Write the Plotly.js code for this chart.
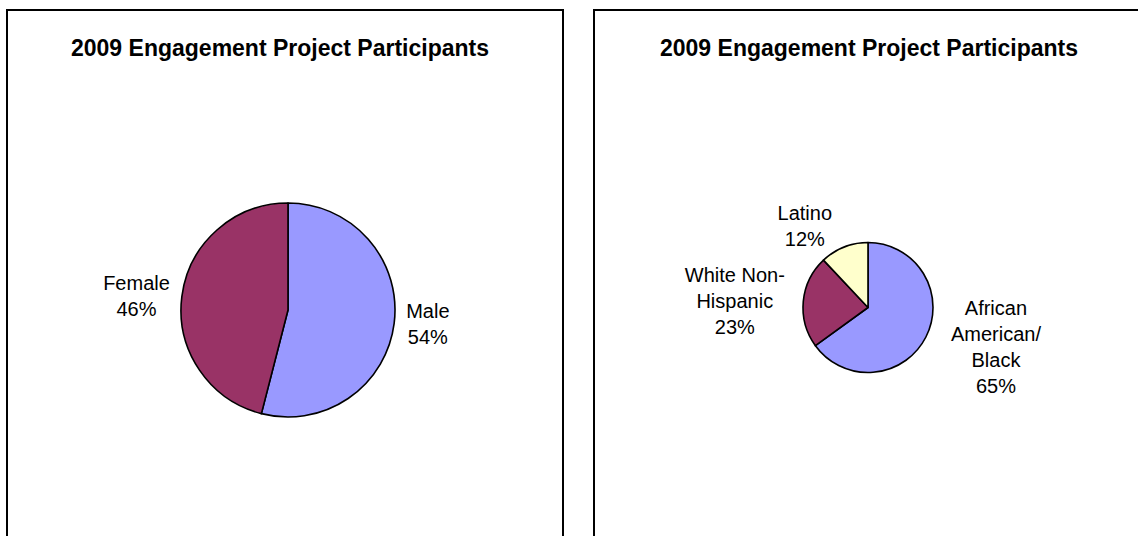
<!DOCTYPE html>
<html>
<head>
<meta charset="utf-8">
<script src="https://cdn.plot.ly/plotly-3.0.1.min.js"></script>
<style>
  html, body { margin: 0; padding: 0; background: #ffffff; }
  #chart { width: 1138px; height: 536px; }
</style>
</head>
<body>
<div id="chart"></div>
<script>
// ---- Data ----
const chartTitle = '2009 Engagement Project Participants';

const genderLabels = ['Male', 'Female'];
const genderValues = [54, 46];

const raceLabels = ['African<br>American/<br>Black', 'White Non-<br>Hispanic', 'Latino'];
const raceValues = [65, 23, 12];

const sliceColorsGender = ['#9999FF', '#993366'];
const sliceColorsRace = ['#9999FF', '#993366', '#FFFFCC'];

// ---- Layout helpers ----
const W = 1138, H = 536;
const px = v => v / W;
const py = v => 1 - v / H;

const FONT = 'Arial, "Liberation Sans", sans-serif';

const traces = [
  {
    type: 'pie',
    labels: genderLabels,
    values: genderValues,
    sort: false,
    direction: 'clockwise',
    rotation: 0,
    marker: { colors: sliceColorsGender, line: { color: '#000000', width: 1.6 } },
    textposition: 'outside',
    texttemplate: '%{label}<br>%{percent:.0%}',
    outsidetextfont: { family: FONT, size: 20, color: '#000000' },
    hoverinfo: 'none',
    domain: { x: [px(181), px(395)], y: [py(417), py(203)] },
    automargin: false
  },
  {
    type: 'pie',
    labels: raceLabels,
    values: raceValues,
    sort: false,
    direction: 'clockwise',
    rotation: 0,
    marker: { colors: sliceColorsRace, line: { color: '#000000', width: 1.6 } },
    textposition: 'outside',
    texttemplate: '%{label}<br>%{percent:.0%}',
    outsidetextfont: { family: FONT, size: 20, color: '#000000' },
    hoverinfo: 'none',
    domain: { x: [px(803), px(933)], y: [py(372.5), py(242.5)] },
    automargin: false
  }
];

const layout = {
  width: W,
  height: H,
  margin: { l: 0, r: 0, t: 0, b: 0 },
  paper_bgcolor: '#ffffff',
  plot_bgcolor: '#ffffff',
  showlegend: false,
  font: { family: FONT, color: '#000000' },
  shapes: [
    { type: 'rect', xref: 'paper', yref: 'paper',
      x0: px(7), x1: px(563), y0: py(560), y1: py(10),
      line: { color: '#000000', width: 2 }, fillcolor: 'rgba(0,0,0,0)' },
    { type: 'rect', xref: 'paper', yref: 'paper',
      x0: px(594), x1: px(1160), y0: py(560), y1: py(10),
      line: { color: '#000000', width: 2 }, fillcolor: 'rgba(0,0,0,0)' }
  ],
  annotations: [
    { xref: 'paper', yref: 'paper', x: px(280), y: py(48), xanchor: 'center', yanchor: 'middle',
      text: '<b>' + chartTitle + '</b>', showarrow: false,
      font: { family: FONT, size: 23, color: '#000000' } },
    { xref: 'paper', yref: 'paper', x: px(869), y: py(48), xanchor: 'center', yanchor: 'middle',
      text: '<b>' + chartTitle + '</b>', showarrow: false,
      font: { family: FONT, size: 23, color: '#000000' } }
  ]
};

Plotly.newPlot('chart', traces, layout, { displayModeBar: false, staticPlot: true });
</script>
</body>
</html>
